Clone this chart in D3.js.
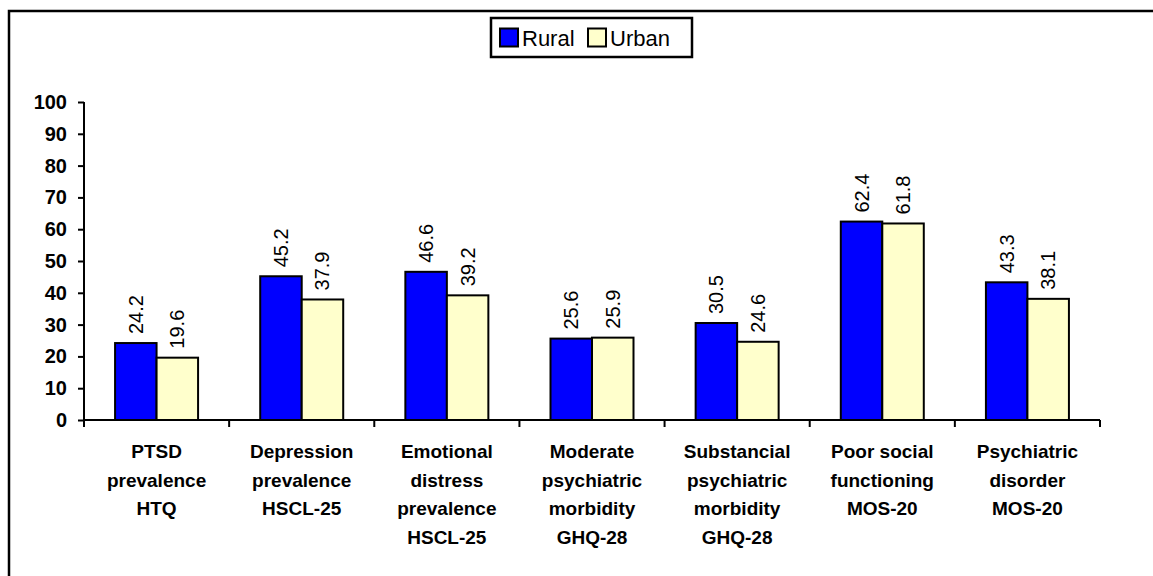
<!DOCTYPE html>
<html><head><meta charset="utf-8">
<script src="https://cdn.jsdelivr.net/npm/d3@7"></script>
<style>body{margin:0;background:#fff}svg{display:block}text{font-family:Arial,"Liberation Sans",sans-serif}</style>
</head><body><svg id="c" width="1153" height="576"></svg>
<script>
const categories = [
  ["PTSD","prevalence","HTQ"],
  ["Depression","prevalence","HSCL-25"],
  ["Emotional","distress","prevalence","HSCL-25"],
  ["Moderate","psychiatric","morbidity","GHQ-28"],
  ["Substancial","psychiatric","morbidity","GHQ-28"],
  ["Poor social","functioning","MOS-20"],
  ["Psychiatric","disorder","MOS-20"]
];
const seriesNames = ["Rural","Urban"];
const rural = [24.2,45.2,46.6,25.6,30.5,62.4,43.3];
const urban = [19.6,37.9,39.2,25.9,24.6,61.8,38.1];
const yTicks = [0,10,20,30,40,50,60,70,80,90,100];
const colors = ["#0000FF","#FFFFCC"];

(function(){
const svg = d3.select("#c");
svg.append("rect").attr("x",9).attr("y",11).attr("width",1160).attr("height",600)
  .attr("fill","none").attr("stroke","#000").attr("stroke-width",2.5);

const pl=84, pr=1100, pt=102, pb=420;
const x0 = d3.scaleBand().domain(d3.range(categories.length)).range([pl,pr]).paddingInner(0).paddingOuter(0);
const bw = 41.5;
const y = d3.scaleLinear().domain([0,100]).range([pb,pt]);
const series = [rural, urban];

series.forEach((vals,si)=>{
  svg.append("g").selectAll("rect").data(vals).join("rect")
    .attr("x",(d,i)=>x0(i)+x0.bandwidth()/2 - bw + si*bw)
    .attr("y",d=>y(d)).attr("width",bw).attr("height",d=>pb-y(d))
    .attr("fill",colors[si]).attr("stroke","#000").attr("stroke-width",2);
  svg.append("g").selectAll("text").data(vals).join("text")
    .attr("transform",(d,i)=>`translate(${x0(i)+x0.bandwidth()/2 - bw/2 + si*bw},${y(d)-9}) rotate(-90)`)
    .attr("dy","0.35em").attr("text-anchor","start")
    .attr("font-size",20).attr("fill","#000").text(d=>d.toFixed(1));
});

const yAxis = svg.append("g").attr("transform",`translate(${pl},0)`)
  .call(d3.axisLeft(y).tickValues(yTicks).tickSize(6).tickPadding(11));
yAxis.select(".domain").attr("stroke-width",2).attr("d",`M0,${pt}V${pb+7}`);
yAxis.selectAll(".tick line").attr("stroke-width",2);
yAxis.selectAll("text").attr("font-size",20).attr("font-weight","bold").attr("font-family","Arial, 'Liberation Sans', sans-serif").attr("fill","#000");

const bounds = d3.range(categories.length+1).map(i=> i<categories.length ? x0(i) : pr);
const xg = svg.append("g");
xg.append("line").attr("x1",pl).attr("x2",pr).attr("y1",pb).attr("y2",pb).attr("stroke","#000").attr("stroke-width",2);
xg.selectAll("line.t").data(bounds).join("line").attr("class","t")
  .attr("x1",d=>d).attr("x2",d=>d).attr("y1",pb).attr("y2",pb+7).attr("stroke","#000").attr("stroke-width",2);

categories.forEach((lines,i)=>{
  const t = svg.append("text").attr("text-anchor","middle").attr("font-size",19).attr("font-weight","bold");
  lines.forEach((ln,j)=>{
    t.append("tspan").attr("x",x0(i)+x0.bandwidth()/2).attr("y",458+j*28.6).text(ln);
  });
});

const lg = svg.append("g");
lg.append("rect").attr("x",491).attr("y",18).attr("width",201).attr("height",39).attr("fill","#fff").attr("stroke","#000").attr("stroke-width",2.5);
const lx = [500,588];
seriesNames.forEach((n,i)=>{
  lg.append("rect").attr("x",lx[i]).attr("y",28.5).attr("width",18).attr("height",18)
    .attr("fill",colors[i]).attr("stroke","#000").attr("stroke-width",2);
  lg.append("text").attr("x",lx[i]+22).attr("y",45.5).attr("font-size",22).text(n);
});
})();
</script></body></html>
